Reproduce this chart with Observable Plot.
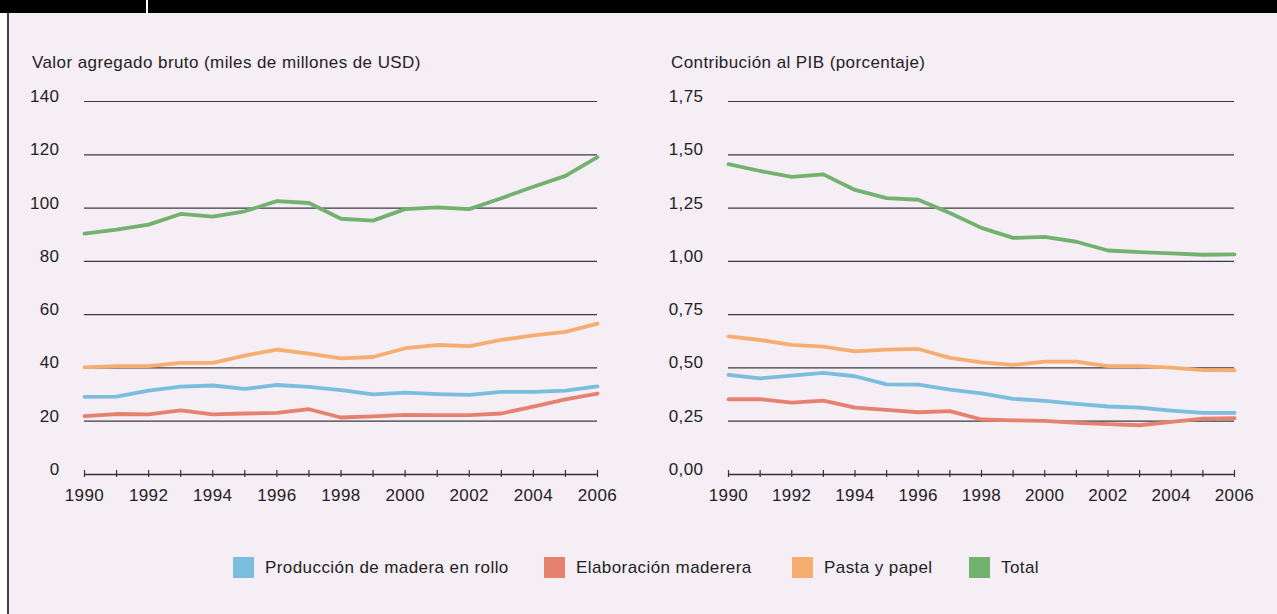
<!DOCTYPE html>
<html>
<head>
<meta charset="utf-8">
<script src="https://cdn.jsdelivr.net/npm/d3@7"></script>
<script src="https://cdn.jsdelivr.net/npm/@observablehq/plot@0.6"></script>
<style>
  html, body { margin: 0; padding: 0; background: #ffffff; }
  body { width: 1277px; height: 614px; position: relative; overflow: hidden;
         font-family: "Liberation Sans", Arial, sans-serif; color: #222; }
  .abs { position: absolute; }
  #topbar { left: 0; top: 0; width: 1277px; height: 13px; background: #000; }
  #topsep { left: 146px; top: 0; width: 2px; height: 13px; background: #fff; }
  #panel { left: 9px; top: 13px; width: 1268px; height: 601px; background: #F5EEF5; }
  #border { left: 7px; top: 13px; width: 2px; height: 601px; background: #444; }
  .title { font-size: 17px; line-height: 17px; letter-spacing: 0.42px; white-space: nowrap; color: #222; }
  .legend-item { top: 557px; height: 21px; display: flex; align-items: center; font-size: 17px; letter-spacing: 0.42px; white-space: nowrap; }
  .sw { width: 21px; height: 21px; margin-right: 11px; }
  svg { background: transparent !important; }
</style>
</head>
<body>
<div class="abs" id="topbar"></div>
<div class="abs" id="topsep"></div>
<div class="abs" id="panel"></div>
<div class="abs" id="border"></div>
<div class="abs title" style="left:32px; top:54px;">Valor agregado bruto (miles de millones de USD)</div>
<div class="abs title" style="left:671px; top:54px;">Contribución al PIB (porcentaje)</div>
<div class="abs" id="chartL" style="left:0px; top:80px;"></div>
<div class="abs" id="chartR" style="left:640px; top:80px;"></div>
<div id="legend"></div>
<script>
// ---- Data ----
const years = [1990,1991,1992,1993,1994,1995,1996,1997,1998,1999,2000,2001,2002,2003,2004,2005,2006];
const seriesNames = ["Producción de madera en rollo", "Elaboración maderera", "Pasta y papel", "Total"];
const seriesColors = ["#7BBDDC", "#E6816F", "#F5AE70", "#72B26E"];

// Valor agregado bruto (miles de millones de USD)
const gvaRoundwood = [29.1,29.2,31.5,33.0,33.4,32.1,33.6,32.9,31.7,30.1,30.7,30.2,29.9,31.0,31.0,31.5,33.1];
const gvaWood      = [21.9,22.7,22.6,24.1,22.6,22.9,23.1,24.5,21.4,21.8,22.4,22.3,22.3,22.9,25.5,28.2,30.4];
const gvaPulp      = [40.2,40.7,40.7,41.9,41.9,44.6,46.9,45.4,43.6,44.1,47.4,48.6,48.2,50.5,52.2,53.5,56.6];
const gvaTotal     = [90.4,91.9,93.8,97.8,96.8,98.8,102.6,101.9,96.0,95.3,99.6,100.3,99.6,103.7,108.0,112.1,119.1];

// Contribución al PIB (porcentaje)
const gdpRoundwood = [0.467,0.451,0.464,0.477,0.461,0.423,0.422,0.398,0.381,0.355,0.345,0.331,0.319,0.314,0.300,0.289,0.289];
const gdpWood      = [0.353,0.353,0.337,0.347,0.314,0.303,0.292,0.297,0.258,0.254,0.252,0.242,0.236,0.231,0.247,0.262,0.264];
const gdpPulp      = [0.648,0.631,0.608,0.600,0.578,0.586,0.589,0.547,0.526,0.514,0.530,0.530,0.508,0.508,0.501,0.490,0.489];
const gdpTotal     = [1.456,1.424,1.396,1.408,1.335,1.297,1.289,1.227,1.157,1.110,1.115,1.092,1.051,1.043,1.037,1.031,1.033];

const leftTicks  = [0,20,40,60,80,100,120,140];
const rightTicks = [0,0.25,0.5,0.75,1.0,1.25,1.5,1.75];

// ---- Build tidy tables ----
function tidy(arrays) {
  const out = [];
  arrays.forEach((arr, i) => arr.forEach((v, j) => out.push({year: years[j], value: v, series: seriesNames[i]})));
  return out;
}
const leftData  = tidy([gvaRoundwood, gvaWood, gvaPulp, gvaTotal]);
const rightData = tidy([gdpRoundwood, gdpWood, gdpPulp, gdpTotal]);

function makeChart(data, yDomain, yTicks, yFmt, width, marginLeft) {
  return Plot.plot({
    width: width,
    height: 430,
    marginTop: 21,
    marginBottom: 36,
    marginLeft: marginLeft,
    marginRight: 43,
    style: {background: "transparent", fontFamily: "'Liberation Sans', Arial, sans-serif", fontSize: "17px", letterSpacing: "0.42px", color: "#222", overflow: "visible"},
    x: {domain: [1990, 2006], type: "linear", label: null},
    y: {domain: yDomain, label: null},
    color: {domain: seriesNames, range: seriesColors},
    marks: [
      Plot.gridY(yTicks.slice(1), {stroke: "#3a3a3a", strokeOpacity: 1, strokeWidth: 1.2}),
      Plot.ruleY([0], {stroke: "#333", strokeWidth: 1.4}),
      Plot.axisY(yTicks, {label: null, tickSize: 0, tickPadding: 25, dy: -5, tickFormat: yFmt, fontSize: 17, fill: "#222"}),
      Plot.axisX(years, {label: null, tickSize: 7, dy: -4, tickPadding: 11, stroke: "#333", strokeWidth: 1.2,
                          tickFormat: d => (d % 2 === 0 ? String(d) : ""), fontSize: 17, fill: "#222"}),
      Plot.line(data, {x: "year", y: "value", stroke: "series", strokeWidth: 3.8, strokeLinejoin: "round"})
    ]
  });
}

document.getElementById("chartL").appendChild(
  makeChart(leftData, [0, 140], leftTicks, d => String(d), 640, 84));
document.getElementById("chartR").appendChild(
  makeChart(rightData, [0, 1.75], rightTicks, d => d.toFixed(2).replace(".", ","), 637, 88));

// ---- Legend ----
const legendLefts = [233, 544, 792, 969];
const legend = document.getElementById("legend");
seriesNames.forEach((name, i) => {
  const item = document.createElement("div");
  item.className = "abs legend-item";
  item.style.left = legendLefts[i] + "px";
  const sw = document.createElement("div");
  sw.className = "sw";
  sw.style.background = seriesColors[i];
  const t = document.createElement("span");
  t.textContent = name;
  item.appendChild(sw);
  item.appendChild(t);
  legend.appendChild(item);
});
</script>
</body>
</html>
